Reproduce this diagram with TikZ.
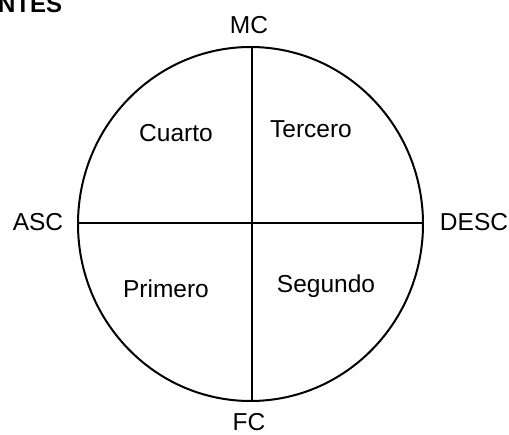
\documentclass[tikz,border=0pt]{standalone}
\usepackage{fontspec}
\setmainfont{Liberation Sans}
\begin{document}
\begin{tikzpicture}[x=1pt, y=-1pt, line width=1.6pt,
    lbl/.style={anchor=base, inner sep=0pt, font=\fontsize{24.5}{28}\selectfont}]
         \useasboundingbox (0,0) rectangle (509,435);
         \clip (0,0) rectangle (509,435);
         %heading
         \node[anchor=base east, inner sep=0pt, font=\fontsize{24}{28}\selectfont\bfseries] at (63,13) (head) {NTES};
         %circle
         \coordinate (c) at (250.5,224);
         \draw[line width=2pt] (c) ellipse [x radius=172.5pt, y radius=177pt];
         \coordinate (top) at (252,47);
         \coordinate (bottom) at (252,401);
         \coordinate (left) at (78,223);
         \coordinate (right) at (423,223);
         \draw (top) -- (bottom);
         \draw (left) -- (right);
         %angles
         \node[lbl] at (249,34) (mc) {MC};
         \node[lbl] at (38,231) (asc) {ASC};
         \node[lbl] at (474,231) (desc) {DESC};
         \node[lbl] at (249,431) (fc) {FC};
         %houses
         \node[lbl] at (176,142) (cuarto) {Cuarto};
         \node[lbl] at (311,138) (tercero) {Tercero};
         \node[lbl] at (166,298) (primero) {Primero};
         \node[lbl] at (326,293) (segundo) {Segundo};
    \end{tikzpicture}
\end{document}
